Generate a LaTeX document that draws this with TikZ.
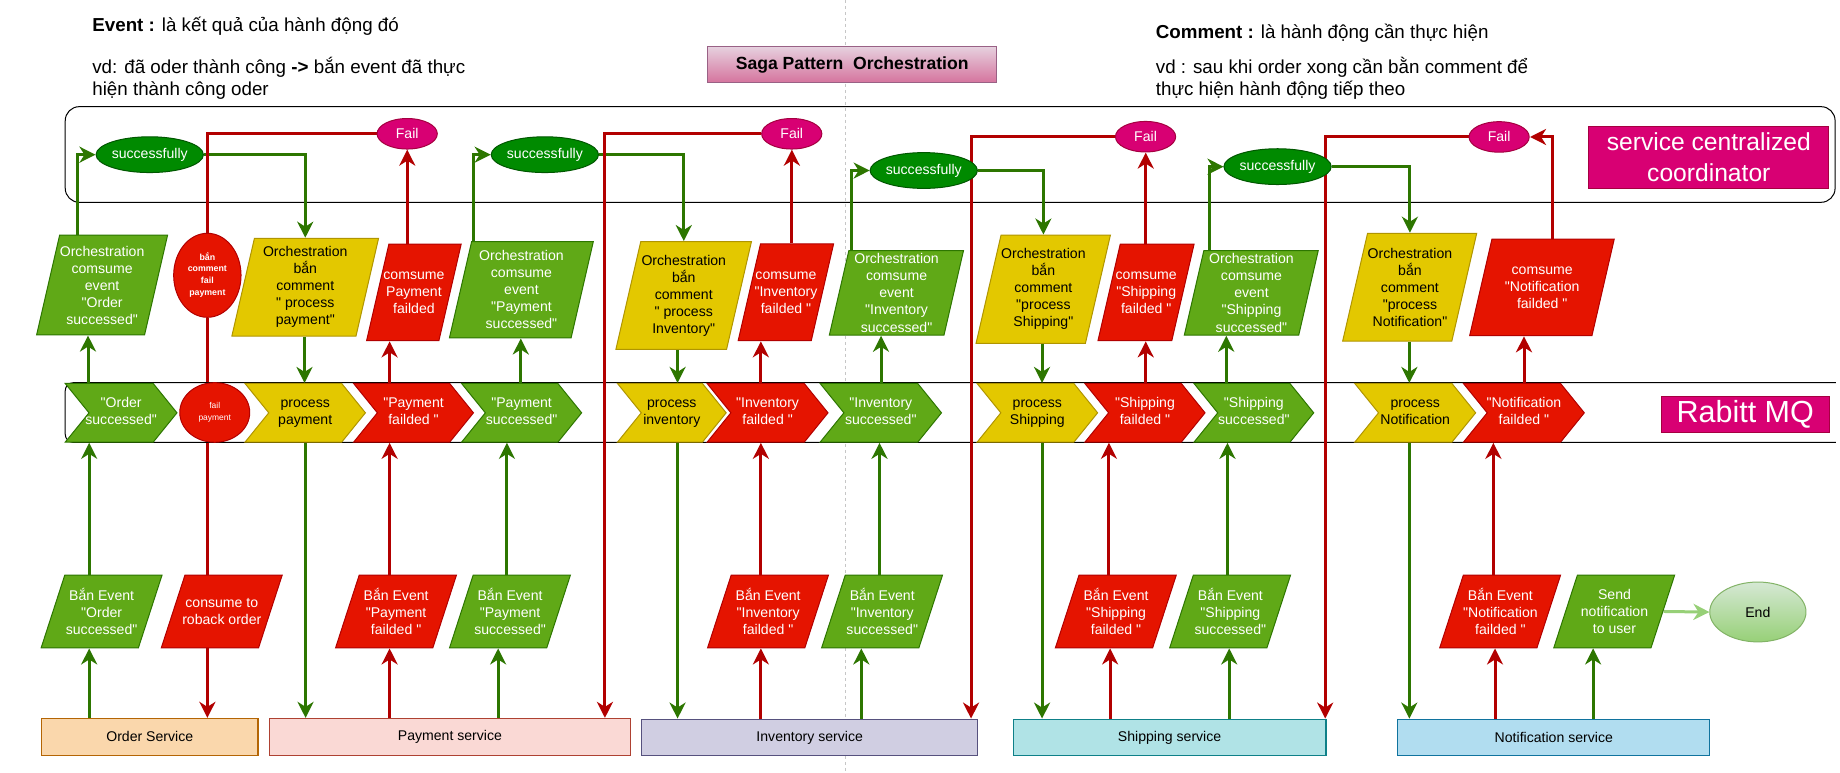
\documentclass[tikz,border=0pt]{standalone}
\usepackage{fontspec}
\setmainfont{Liberation Sans}[Ligatures=TeXOff]
\usetikzlibrary{shapes.geometric, shapes.symbols, arrows.meta}

\definecolor{gbg}{HTML}{60A917}
\definecolor{gln}{HTML}{2D7600}
\definecolor{rbg}{HTML}{E51400}
\definecolor{rln}{HTML}{B20000}
\definecolor{ybg}{HTML}{E3C800}
\definecolor{yln}{HTML}{B09500}
\definecolor{mbg}{HTML}{D80073}
\definecolor{mln}{HTML}{A50040}
\definecolor{sbg}{HTML}{008A00}
\definecolor{sln}{HTML}{005700}
\definecolor{endtop}{HTML}{D5E8D4}
\definecolor{endbot}{HTML}{97D077}
\definecolor{endln}{HTML}{82B366}
\definecolor{ttltop}{HTML}{E6D0DE}
\definecolor{ttlbot}{HTML}{D5739D}
\definecolor{ttlln}{HTML}{996185}
\definecolor{ordbg}{HTML}{FAD7AC}
\definecolor{ordln}{HTML}{B46504}
\definecolor{paybg}{HTML}{FAD9D5}
\definecolor{payln}{HTML}{AE4132}
\definecolor{invbg}{HTML}{D0CEE2}
\definecolor{invln}{HTML}{56517E}
\definecolor{shpbg}{HTML}{B0E3E6}
\definecolor{shpln}{HTML}{0E8088}
\definecolor{notbg}{HTML}{B1DDF0}
\definecolor{notln}{HTML}{10739E}

\newcommand\boxfont{\fontsize{12}{14.5}\selectfont}
\newcommand\smallbold{\fontsize{7.5}{10}\selectfont\bfseries}
\newcommand\tinyfont{\fontsize{7.2}{10}\selectfont}
\newcommand\topfont{\fontsize{16}{19.5}\selectfont}
\newcommand\titlefont{\fontsize{15}{18}\selectfont\bfseries}
\newcommand\ctr[1]{\makebox[0pt]{\begin{tabular}{@{}c@{}}#1\end{tabular}}}

\pgfdeclarelayer{back}
\pgfsetlayers{back,main}

\tikzset{
  pgram/.style 2 args={trapezium, trapezium left angle=77, trapezium right angle=103,
    trapezium stretches body=true, inner sep=0pt, line width=1pt,
    minimum width=#1, node contents={\rule{0pt}{#2}}},
  lowpgram/.style 2 args={pgram={#1}{#2}, trapezium left angle=72, trapezium right angle=108},
  chevron/.style={signal, signal from=west, signal to=east, signal pointer angle=102,
    inner sep=0pt, minimum height=50pt, line width=1pt, font=\boxfont},
  okbox/.style={fill=gbg, draw=gln, text=white},
  badbox/.style={fill=rbg, draw=rln, text=white},
  cmdbox/.style={fill=ybg, draw=yln, text=black},
  lbl/.style={inner sep=0pt, align=center, font=\boxfont},
  wlbl/.style={lbl, text=white},
  okpill/.style={ellipse, fill=sbg, draw=sln, text=white, inner sep=0pt,
    minimum height=30.5pt, line width=1pt, font=\boxfont},
  failpill/.style={ellipse, fill=mbg, draw=mln, text=white, inner sep=0pt,
    minimum width=51.3pt, minimum height=26pt, line width=1pt, font=\boxfont},
  service/.style={draw, line width=1.2pt, minimum height=31.3pt, inner sep=0pt, font=\boxfont},
  tag/.style={fill=mbg, draw=mln, text=white, inner sep=0pt, line width=1pt, align=center},
  note/.style={anchor=base west, inner sep=0pt, font=\topfont},
  okarrow/.style={draw=gln, line width=3pt, -{Stealth[length=16pt,width=16pt,inset=5pt]}},
  badarrow/.style={draw=rln, line width=3pt, -{Stealth[length=16pt,width=16pt,inset=5pt]}},
  badline/.style={draw=rln, line width=3pt},
  endarrow/.style={draw=endbot, line width=3pt, -{Stealth[length=16pt,width=16pt,inset=5pt]}},
}

\begin{document}
\begin{tikzpicture}[x=1pt, y=-1pt, scale=1.1735, transform shape]
    \useasboundingbox (0,0) rectangle (1568,658);

    % Notes and title
    \node[note] (evnote) at (78.5,26.5) {\textbf{Event :} là kết quả của hành động đó};
    \node[note] (evex) at (78.5,62.5) {vd: đã oder thành công \textbf{->} bắn event đã thực};
    \node[note] (evex2) at (78.5,81.5) {hiện thành công oder};
    \node[note] (cmnote) at (984.8,32.5) {\textbf{Comment :} là hành động cần thực hiện};
    \node[note] (cmex) at (984.8,62.5) {vd : sau khi order xong cần bằn comment để};
    \node[note] (cmex2) at (984.8,81.5) {thực hiện hành động tiếp theo};
    \node[draw=ttlln, top color=ttltop, bottom color=ttlbot, line width=1pt, inner sep=0pt,
        minimum width=246.5pt, minimum height=30.7pt, font=\titlefont] (title) at (726.2,55.2)
        {Saga Pattern\ \ Orchestration};

    \node[tag, minimum width=204.8pt, minimum height=53.1pt, font=\fontsize{21}{26}\selectfont]
        (coord) at (1456.2,134) {service centralized\\coordinator};
    \node[tag, minimum width=143pt, minimum height=31pt, font=\fontsize{26}{30}\selectfont]
        (mq) at (1487.2,353) {Rabitt MQ};

    % Coordinator decisions
    \node[okpill, minimum width=81.4pt] (S1) at (127.6,131.8) {successfully};
    \node[okpill, minimum width=81.4pt] (S2) at (464.3,131.8) {successfully};
    \node[okpill, minimum width=71pt] (S3) at (787.2,145.3) {successfully};
    \node[okpill, minimum width=71.3pt] (S4) at (1088.7,142) {successfully};
    \node[failpill] (F1) at (347,114) {Fail};
    \node[failpill] (F2) at (674.7,114) {Fail};
    \node[failpill] (F3) at (976.2,116.5) {Fail};
    \node[failpill] (F4) at (1277.5,116.7) {Fail};

    % Orchestration steps
    \node (U1) at (87,242.9) [pgram={111.6pt}{85pt}, okbox];
    \node[wlbl] (U1t) at (U1.center) {Orchestration\\comsume\\event\\"Order\\successed"};
    \node[ellipse, badbox, inner sep=0pt, line width=1pt, minimum width=57.4pt, minimum height=71.6pt,
        font=\smallbold] (E) at (176.7,234.6) {\ctr{bắn\\comment\\fail\\payment}};
    \node (U3) at (260.1,244.7) [pgram={125pt}{83.3pt}, cmdbox];
    \node[lbl] (U3t) at (U3.center) {Orchestration\\bắn\\comment\\" process\\payment"};
    \node (U4) at (352.7,249.2) [pgram={80.6pt}{82.3pt}, badbox];
    \node[wlbl] (U4t) at (U4.center) {comsume\\Payment\\failded};
    \node (U5) at (444.3,246.9) [pgram={122.6pt}{82pt}, okbox];
    \node[wlbl] (U5t) at (U5.center) {Orchestration\\comsume\\event\\"Payment\\successed"};
    \node (U6) at (582.6,251.8) [pgram={115.5pt}{91.8pt}, cmdbox];
    \node[lbl] (U6t) at (U6.center) {Orchestration\\bắn\\comment\\" process\\Inventory"};
    \node (U7) at (669.7,249.1) [pgram={81.3pt}{82.4pt}, badbox];
    \node[wlbl] (U7t) at (U7.center) {comsume\\"Inventory\\failded "};
    \node (U8) at (763.9,249.6) [pgram={114.3pt}{72pt}, okbox];
    \node[wlbl] (U8t) at (U8.center) {Orchestration\\comsume\\event\\"Inventory\\successed"};
    \node (U9) at (889,246.5) [pgram={114.5pt}{92.3pt}, cmdbox];
    \node[lbl] (U9t) at (U9.center) {Orchestration\\bắn\\comment\\"process\\Shipping"};
    \node (U10) at (976.6,249.2) [pgram={81.9pt}{82.3pt}, badbox];
    \node[wlbl] (U10t) at (U10.center) {comsume\\"Shipping\\failded "};
    \node (U11) at (1066.3,249.6) [pgram={114.1pt}{72pt}, okbox];
    \node[wlbl] (U11t) at (U11.center) {Orchestration\\comsume\\event\\"Shipping\\successed"};
    \node (U12) at (1201.3,244.7) [pgram={114.2pt}{91.8pt}, cmdbox];
    \node[lbl] (U12t) at (U12.center) {Orchestration\\bắn\\comment\\"process\\Notification"};
    \node (U13) at (1314,244.9) [pgram={123.2pt}{82.3pt}, badbox];
    \node[wlbl] (U13t) at (U13.center) {comsume\\"Notification\\failded "};

    % Queue messages
    \node[chevron, okbox, minimum width=95.2pt] (C1) at (103.2,351.8) {\ctr{"Order\\successed"}};
    \node[ellipse, badbox, inner sep=0pt, line width=1pt, minimum width=59.6pt, minimum height=50.8pt,
        font=\tinyfont] (F) at (183,351.5) {\ctr{fail\\payment}};
    \node[chevron, cmdbox, minimum width=102.6pt] (C3) at (260.1,351.8) {\ctr{process\\payment}};
    \node[chevron, badbox, minimum width=102.1pt] (C4) at (352.4,351.8) {\ctr{"Payment\\failded "}};
    \node[chevron, okbox, minimum width=102.3pt] (C5) at (444.5,351.8) {\ctr{"Payment\\successed"}};
    \node[chevron, cmdbox, minimum width=92.6pt] (C6) at (572.5,351.8) {\ctr{process\\inventory}};
    \node[chevron, badbox, minimum width=103pt] (C7) at (654.1,351.8) {\ctr{"Inventory\\failded "}};
    \node[chevron, okbox, minimum width=103.4pt] (C8) at (750.6,351.8) {\ctr{"Inventory\\successed"}};
    \node[chevron, cmdbox, minimum width=102.7pt] (C9) at (884,351.8) {\ctr{process\\Shipping}};
    \node[chevron, badbox, minimum width=102.4pt] (C10) at (975.7,351.8) {\ctr{"Shipping\\failded "}};
    \node[chevron, okbox, minimum width=102pt] (C11) at (1068.5,351.8) {\ctr{"Shipping\\successed"}};
    \node[chevron, cmdbox, minimum width=103pt] (C12) at (1206,351.8) {\ctr{process\\Notification}};
    \node[chevron, badbox, minimum width=103pt] (C13) at (1298.6,351.8) {\ctr{"Notification\\failded "}};

    % Service events
    \node (L1) at (86.6,521) [lowpgram={103pt}{62pt}, okbox];
    \node[wlbl] (L1t) at (L1.center) {Bắn Event\\"Order\\successed"};
    \node (L2) at (189,521) [lowpgram={103pt}{62pt}, badbox];
    \node[wlbl] (L2t) at (L2.center) {consume to\\roback order};
    \node (L3) at (337.5,521) [lowpgram={103pt}{62pt}, badbox];
    \node[wlbl] (L3t) at (L3.center) {Bắn Event\\"Payment\\failded "};
    \node (L4) at (434.6,521) [lowpgram={103pt}{62pt}, okbox];
    \node[wlbl] (L4t) at (L4.center) {Bắn Event\\"Payment\\successed"};
    \node (L5) at (654.5,521) [lowpgram={103pt}{62pt}, badbox];
    \node[wlbl] (L5t) at (L5.center) {Bắn Event\\"Inventory\\failded "};
    \node (L6) at (751.7,521) [lowpgram={103pt}{62pt}, okbox];
    \node[wlbl] (L6t) at (L6.center) {Bắn Event\\"Inventory\\successed"};
    \node (L7) at (950.9,521) [lowpgram={103pt}{62pt}, badbox];
    \node[wlbl] (L7t) at (L7.center) {Bắn Event\\"Shipping\\failded "};
    \node (L8) at (1048.3,521) [lowpgram={103pt}{62pt}, okbox];
    \node[wlbl] (L8t) at (L8.center) {Bắn Event\\"Shipping\\successed"};
    \node (L9) at (1278.4,521) [lowpgram={103pt}{62pt}, badbox];
    \node[wlbl] (L9t) at (L9.center) {Bắn Event\\"Notification\\failded "};
    \node (L10) at (1375.6,521) [lowpgram={103pt}{62pt}, okbox];
    \node[wlbl] (L10t) at (L10.center) {Send\\notification\\to user};
    \node[ellipse, draw=endln, top color=endtop, bottom color=endbot, line width=1pt, inner sep=0pt,
        minimum width=82pt, minimum height=51pt, font=\boxfont] (End) at (1498,521.5) {End};

    % Services
    \node[service, fill=ordbg, draw=ordln, minimum width=184.5pt] (SvOrder) at (127.6,627.9) {Order Service};
    \node[service, fill=paybg, draw=payln, minimum width=307.4pt] (SvPay) at (383.4,627.9) {Payment service};
    \node[service, fill=invbg, draw=invln, minimum width=286.5pt] (SvInv) at (690,628.5) {Inventory service};
    \node[service, fill=shpbg, draw=shpln, minimum width=266.7pt] (SvShip) at (996.7,628.5) {Shipping service};
    \node[service, fill=notbg, draw=notln, minimum width=265.8pt] (SvNoti) at (1324.1,628.5) {Notification service};

    \begin{pgfonlayer}{back}
        \fill[white] (0,0) rectangle (1568,658);
        \draw[gray!45, line width=0.8pt, dash pattern=on 3pt off 3pt] (720.5,0) -- (720.5,658);
        % Coordinator frame and queue band
        \draw[line width=1pt, rounded corners=14pt] (55.6,90.9) rectangle (1563.8,172.4);
        \draw[line width=1pt, rounded corners=8pt] (1564.5,326.1) -- (55.6,326.1) -- (55.6,377) -- (1564.5,377);

        % Order
        \draw[okarrow] (SvOrder.north -| 76,0) -- (L1.south -| 76,0);
        \draw[okarrow] (L1.north -| 76,0) -- (C1.south -| 76,0);
        \draw[okarrow] (C1.north -| 75,0) -- (U1.south -| 75,0);
        \draw[okarrow] (U1.north -| 66.3,0) |- (S1.west);
        \draw[okarrow] (S1.east) -| (U3.north);
        \draw[okarrow] (U3.south -| 259.5,0) -- (C3.north -| 259.5,0);
        \draw[okarrow] (C3.south -| 260.4,0) -- (SvPay.north -| 260.4,0);
        % Rollback of order
        \draw[badline] (F1.west) -| (E.north);
        \draw[badline] (E.south) -- (E.south |- F.north);
        \draw[badline] (E.south |- F.south) -- (E.south |- L2.north);
        \draw[badarrow] (E.south |- L2.south) -- (E.south |- SvOrder.north);

        % Payment
        \draw[badarrow] (SvPay.north -| 332,0) -- (L3.south -| 332,0);
        \draw[badarrow] (L3.north -| 332,0) -- (C4.south -| 332,0);
        \draw[badarrow] (C4.north -| 332,0) -- (U4.south -| 332,0);
        \draw[badarrow] (U4.north -| F1.south) -- (F1.south);
        \draw[okarrow] (SvPay.north -| 424.5,0) -- (L4.south -| 424.5,0);
        \draw[okarrow] (L4.north -| 432,0) -- (C5.south -| 432,0);
        \draw[okarrow] (C5.north -| 443.8,0) -- (U5.south -| 443.8,0);
        \draw[okarrow] (U5.north -| 403.4,0) |- (S2.west);
        \draw[okarrow] (S2.east) -| (U6.north);
        \draw[okarrow] (U6.south -| 577.4,0) -- (C6.north -| 577.4,0);
        \draw[okarrow] (C6.south -| 577.4,0) -- (SvInv.north -| 577.4,0);
        \draw[badarrow] (F2.west) -| (SvPay.north -| 515.5,0);

        % Inventory
        \draw[badarrow] (SvInv.north -| 648.4,0) -- (L5.south -| 648.4,0);
        \draw[badarrow] (L5.north -| 648.4,0) -- (C7.south -| 648.4,0);
        \draw[badarrow] (C7.north -| 648.4,0) -- (U7.south -| 648.4,0);
        \draw[badarrow] (U7.north -| F2.south) -- (F2.south);
        \draw[okarrow] (SvInv.north -| 734,0) -- (L6.south -| 734,0);
        \draw[okarrow] (L6.north -| 749.5,0) -- (C8.south -| 749.5,0);
        \draw[okarrow] (C8.north -| 750.8,0) -- (U8.south -| 750.8,0);
        \draw[okarrow] (U8.north -| 725.5,0) |- (S3.west);
        \draw[okarrow] (S3.east) -| (U9.north);
        \draw[okarrow] (U9.south -| 888,0) -- (C9.north -| 888,0);
        \draw[okarrow] (C9.south -| 888,0) -- (SvShip.north -| 888,0);
        \draw[badarrow] (F3.west) -| (SvInv.north -| 827.5,0);

        % Shipping
        \draw[badarrow] (SvShip.north -| 946,0) -- (L7.south -| 946,0);
        \draw[badarrow] (L7.north -| 945,0) -- (C10.south -| 945,0);
        \draw[badarrow] (C10.north -| F3.south) -- (U10.south -| F3.south);
        \draw[badarrow] (U10.north -| F3.south) -- (F3.south);
        \draw[okarrow] (SvShip.north -| 1047.5,0) -- (L8.south -| 1047.5,0);
        \draw[okarrow] (L8.north -| 1046,0) -- (C11.south -| 1046,0);
        \draw[okarrow] (C11.north -| 1045,0) -- (U11.south -| 1045,0);
        \draw[okarrow] (U11.north -| 1030.6,0) |- (S4.west);
        \draw[okarrow] (S4.east) -| (U12.north);
        \draw[okarrow] (U12.south -| 1201,0) -- (C12.north -| 1201,0);
        \draw[okarrow] (C12.south -| 1201,0) -- (SvNoti.north -| 1201,0);
        \draw[badarrow] (F4.west) -| (SvShip.north -| 1129.3,0);

        % Notification
        \draw[badarrow] (SvNoti.north -| 1274,0) -- (L9.south -| 1274,0);
        \draw[badarrow] (L9.north -| 1272.6,0) -- (C13.south -| 1272.6,0);
        \draw[badarrow] (C13.north -| 1298.7,0) -- (U13.south -| 1298.7,0);
        \draw[badarrow] (U13.north -| 1323.1,0) |- (F4.east);
        \draw[okarrow] (SvNoti.north -| 1357.6,0) -- (L10.south -| 1357.6,0);
        \draw[endarrow] (L10.east) -- (End.west);
    \end{pgfonlayer}
\end{tikzpicture}
\end{document}
